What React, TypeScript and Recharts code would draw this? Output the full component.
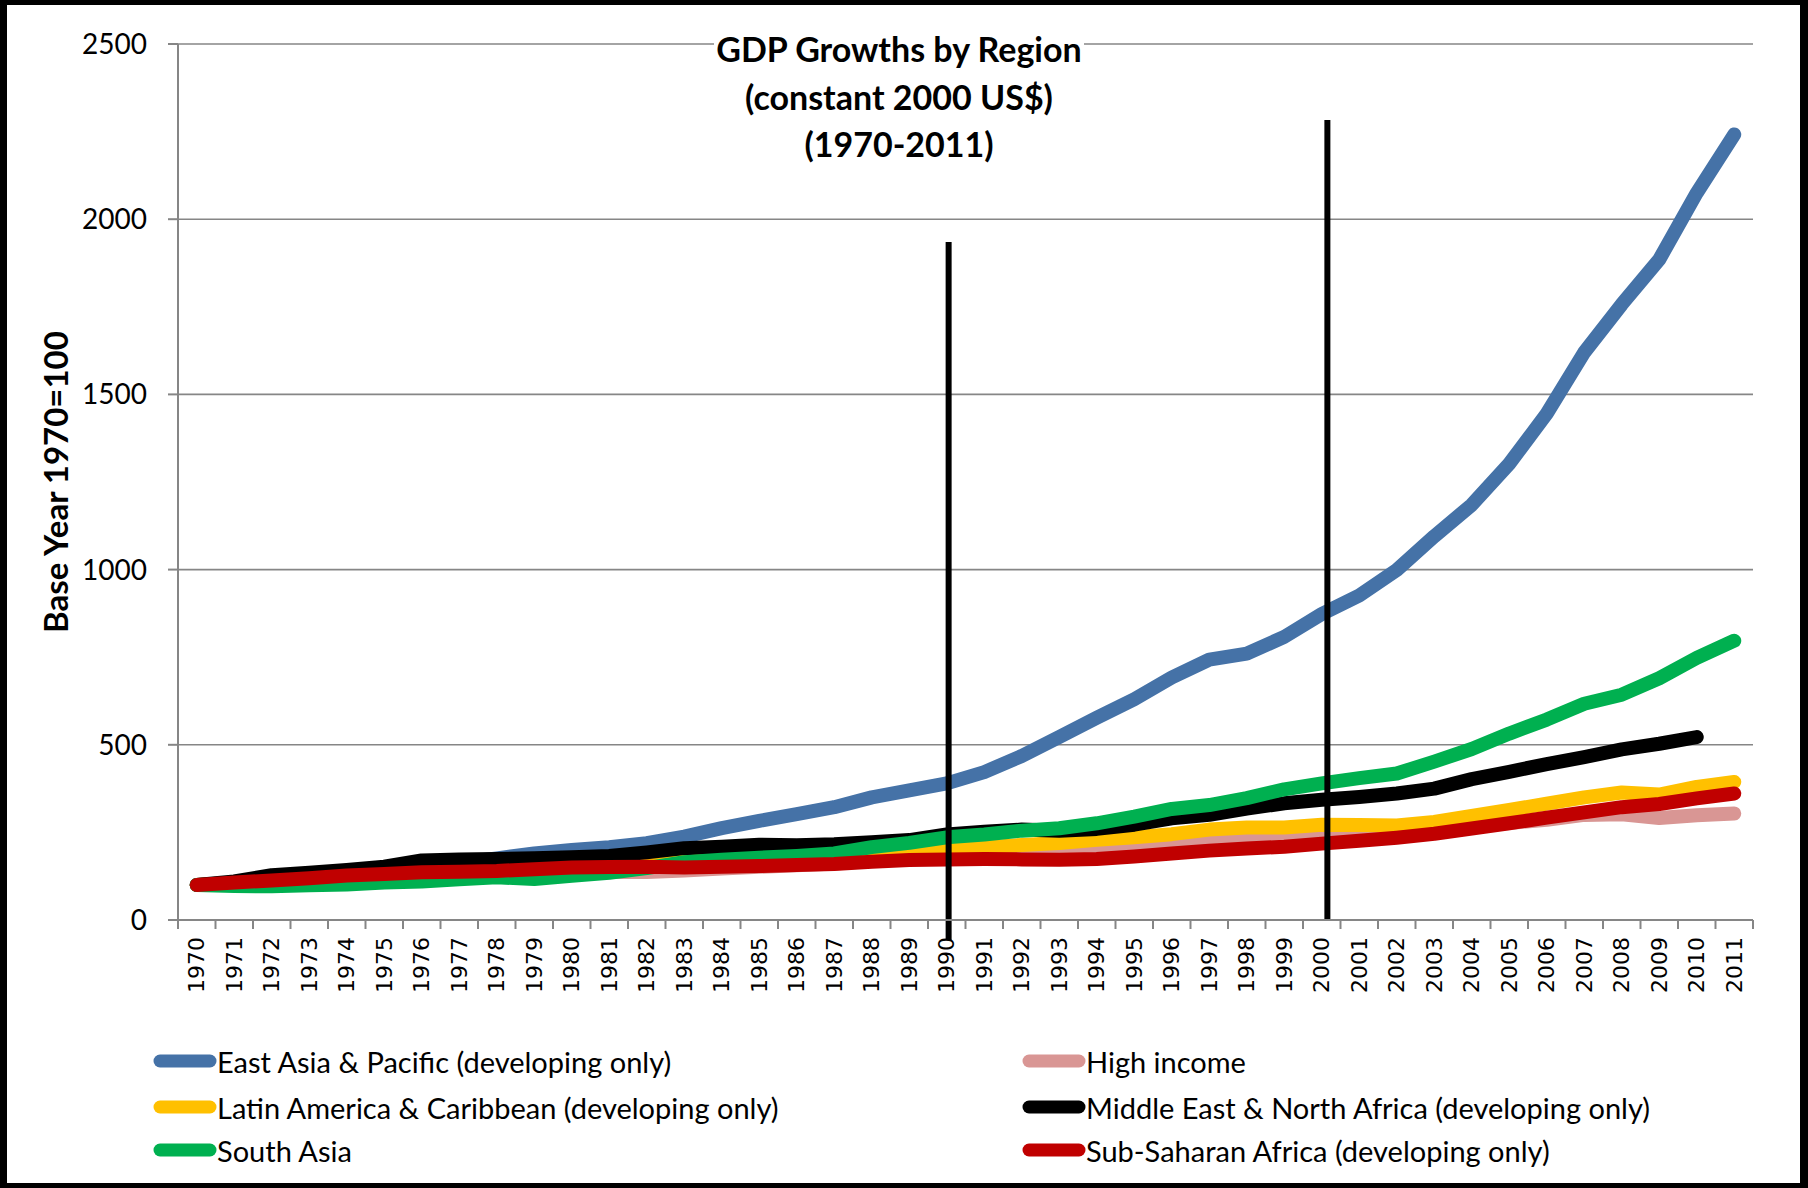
import React from 'react';
import { LineChart, Line, XAxis, YAxis, CartesianGrid, ReferenceLine } from 'recharts';

const YEARS = [
  1970, 1971, 1972, 1973, 1974, 1975, 1976, 1977, 1978, 1979,
  1980, 1981, 1982, 1983, 1984, 1985, 1986, 1987, 1988, 1989,
  1990, 1991, 1992, 1993, 1994, 1995, 1996, 1997, 1998, 1999,
  2000, 2001, 2002, 2003, 2004, 2005, 2006, 2007, 2008, 2009,
  2010, 2011,
];

const EAST_ASIA = [
  100, 106, 117, 128, 136, 143, 152, 163, 176, 190,
  200, 208, 219, 238, 262, 283, 302, 322, 350, 370,
  390, 422, 468, 522, 577, 630, 692, 743, 760, 808,
  873, 926, 999, 1095, 1185, 1302, 1445, 1620, 1757, 1885,
  2075, 2242,
];

const HIGH_INCOME = [
  100, 103, 108, 114, 115, 115, 120, 124, 129, 133,
  135, 137, 137, 141, 147, 152, 156, 161, 168, 175,
  182, 186, 190, 198, 206, 213, 222, 230, 234, 239,
  247, 251, 255, 261, 270, 277, 286, 300, 302, 291,
  299, 304,
];

const LATIN_AMERICA = [
  100, 106, 113, 122, 129, 133, 140, 146, 150, 158,
  167, 170, 170, 170, 176, 182, 189, 194, 196, 199,
  201, 208, 214, 220, 229, 236, 245, 258, 264, 264,
  272, 271, 270, 280, 297, 314, 332, 350, 364, 358,
  380, 394,
];

const MIDDLE_EAST = [
  100, 110, 128, 135, 143, 152, 170, 173, 174, 176,
  179, 183, 193, 205, 209, 215, 213, 216, 222, 228,
  244, 252, 258, 255, 260, 272, 290, 300, 318, 333,
  343, 351, 361, 375, 402, 423, 445, 465, 487, 503,
  522, null,
];

const SOUTH_ASIA = [
  100, 97, 96, 99, 101, 107, 110, 116, 122, 117,
  126, 135, 148, 165, 172, 178, 183, 190, 208, 220,
  236, 244, 255, 262, 276, 295, 317, 328, 348, 373,
  390, 405, 418, 452, 488, 532, 572, 617, 643, 690,
  748, 797,
];

const SUB_SAHARAN = [
  100, 107, 113, 119, 127, 131, 136, 138, 140, 145,
  150, 151, 152, 150, 152, 154, 157, 160, 166, 171,
  173, 174, 173, 172, 174, 181, 190, 198, 204, 209,
  218, 226, 235, 246, 261, 276, 292, 307, 322, 331,
  347, 361,
];

const Y_TICKS = [0, 500, 1000, 1500, 2000, 2500];

const SERIES = [
  { key: 'eap', name: 'East Asia & Pacific (developing only)', color: '#4572A7', values: EAST_ASIA },
  { key: 'hi', name: 'High income', color: '#D99694', values: HIGH_INCOME },
  { key: 'lac', name: 'Latin America & Caribbean (developing only)', color: '#FFC000', values: LATIN_AMERICA },
  { key: 'mena', name: 'Middle East & North Africa (developing only)', color: '#000000', values: MIDDLE_EAST },
  { key: 'sa', name: 'South Asia', color: '#00B050', values: SOUTH_ASIA },
  { key: 'ssa', name: 'Sub-Saharan Africa (developing only)', color: '#C00000', values: SUB_SAHARAN },
];

const MARKER_LINES = [
  { year: 1990.05, from: -57, to: 1935 },
  { year: 2000.15, from: -3, to: 2283 },
];

const TITLE_LINES = ['GDP Growths by Region', '(constant 2000 US$)', '(1970-2011)'];
const Y_TITLE = 'Base Year 1970=100';

const data = YEARS.map((year, i) => {
  const row: Record<string, number | null> = { year };
  SERIES.forEach((s) => {
    row[s.key] = s.values[i];
  });
  return row;
});

const BOUNDARIES = [...YEARS.map((y) => y - 0.5), YEARS[YEARS.length - 1] + 0.5];
const X_TICKS = [...BOUNDARIES, ...YEARS].sort((a, b) => a - b);

const AXIS_GRAY = '#868686';
const CALIBRI_SUB = 'Lato, "Noto Sans", sans-serif';

const YearTick = (props: any) => {
  const { x, y, payload } = props;
  const v = payload.value;
  if (Number.isInteger(v)) {
    const ty = y + 17;
    return (
      <text
        x={x}
        y={ty}
        transform={`rotate(-90 ${x} ${ty})`}
        textAnchor="end"
        dominantBaseline="central"
        fontFamily='"DejaVu Sans", sans-serif'
        fontSize={22}
        fill="#000"
      >
        {v}
      </text>
    );
  }
  return <line x1={x} x2={x} y1={y} y2={y + 9} stroke={AXIS_GRAY} strokeWidth={2} />;
};

const YTitle = (props: any) => {
  const vb = props.viewBox;
  const cy = vb.y + vb.height / 2;
  return (
    <text
      transform={`translate(${vb.x + 68} ${cy}) rotate(-90)`}
      textAnchor="middle"
      fontFamily={CALIBRI_SUB}
      fontWeight={700}
      fontSize={33}
      fill="#000"
    >
      {Y_TITLE}
    </text>
  );
};

const LEGEND_COLS = [153, 1022];
const LEGEND_ROWS = [1061, 1107, 1150];

export default function App() {
  return (
    <div
      style={{
        position: 'absolute',
        left: 0,
        top: 0,
        width: 1808,
        height: 1188,
        background: '#fff',
        overflow: 'hidden',
      }}
    >
      <LineChart
        width={1808}
        height={1188}
        data={data}
        margin={{ top: 44, right: 55, bottom: 267, left: 0 }}
      >
        <CartesianGrid vertical={false} stroke={AXIS_GRAY} strokeWidth={1.6} />
        <XAxis
          type="number"
          dataKey="year"
          domain={[1969.5, 2011.5]}
          ticks={X_TICKS}
          interval={0}
          height={1}
          tickSize={0}
          tickMargin={0}
          tickLine={false}
          axisLine={{ stroke: AXIS_GRAY, strokeWidth: 2 }}
          tick={<YearTick />}
        />
        <YAxis
          type="number"
          domain={[0, 2500]}
          ticks={Y_TICKS}
          interval={0}
          width={178}
          tickSize={10}
          tickMargin={21}
          axisLine={{ stroke: AXIS_GRAY, strokeWidth: 2 }}
          tickLine={{ stroke: AXIS_GRAY, strokeWidth: 2 }}
          tick={{ fill: '#000', fontSize: 28, fontFamily: CALIBRI_SUB }}
          label={{ value: Y_TITLE, content: <YTitle /> }}
        />
        {SERIES.map((s) => (
          <Line
            key={s.key}
            type="linear"
            dataKey={s.key}
            name={s.name}
            stroke={s.color}
            strokeWidth={14}
            strokeLinecap="round"
            strokeLinejoin="round"
            dot={false}
            activeDot={false}
            isAnimationActive={false}
          />
        ))}
        {MARKER_LINES.map((m) => (
          <ReferenceLine
            key={m.year}
            segment={[
              { x: m.year, y: m.from },
              { x: m.year, y: m.to },
            ]}
            stroke="#000"
            strokeWidth={6}
            ifOverflow="visible"
          />
        ))}
      </LineChart>

      <div
        style={{
          position: 'absolute',
          left: 0,
          top: 25,
          width: 1798,
          textAlign: 'center',
          pointerEvents: 'none',
        }}
      >
        <div
          style={{
            display: 'inline-block',
            background: '#fff',
            fontFamily: CALIBRI_SUB,
            fontWeight: 700,
            fontSize: 34,
            lineHeight: '47.5px',
            color: '#000',
            padding: '0 2px',
          }}
        >
          {TITLE_LINES.map((t) => (
            <div key={t}>{t}</div>
          ))}
        </div>
      </div>

      {SERIES.map((s, i) => {
        const col = i % 2;
        const row = Math.floor(i / 2);
        return (
          <div
            key={s.key}
            style={{
              position: 'absolute',
              left: LEGEND_COLS[col],
              top: LEGEND_ROWS[row] - 22,
              height: 44,
              display: 'flex',
              alignItems: 'center',
              fontFamily: CALIBRI_SUB,
              fontSize: 29,
              color: '#000',
              whiteSpace: 'nowrap',
            }}
          >
            <svg width={64} height={16} style={{ display: 'block' }}>
              <line x1={7} y1={8} x2={57} y2={8} stroke={s.color} strokeWidth={13} strokeLinecap="round" />
            </svg>
            <span>{s.name}</span>
          </div>
        );
      })}

      <div
        style={{
          position: 'absolute',
          left: 0,
          top: 0,
          width: 1808,
          height: 1188,
          boxSizing: 'border-box',
          borderStyle: 'solid',
          borderColor: '#000',
          borderWidth: '5px 8px 5px 7px',
          pointerEvents: 'none',
        }}
      />
    </div>
  );
}
